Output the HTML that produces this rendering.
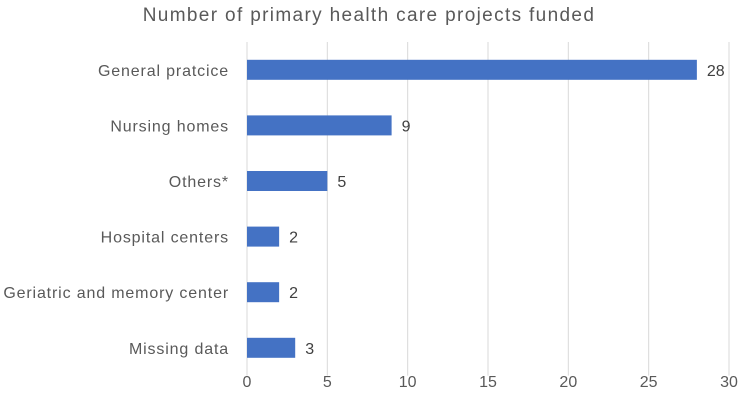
<!DOCTYPE html>
<html><head><meta charset="utf-8"><style>
html,body{margin:0;padding:0;background:#fff;}
svg{display:block;font-family:"Liberation Sans",sans-serif;}
</style></head><body>
<svg id="chart" width="738" height="409">
<text x="369" y="21" text-anchor="middle" font-size="19" letter-spacing="1.35" fill="#595959">Number of primary health care projects funded</text>
<g id="grid"></g><g id="bars"></g><g id="labels"></g>
</svg>
<script>
const categories = ["General pratcice","Nursing homes","Others*","Hospital centers","Geriatric and memory center","Missing data"];
const values = [28,9,5,2,2,3];
const ticks = [0,5,10,15,20,25,30];
const x0=247,x1=729,plotTop=42,step=55.6,barH=20,maxV=30;
const xs=v=>x0+(x1-x0)*v/maxV;
const yc=i=>plotTop+step*(i+0.5);
const ns="http://www.w3.org/2000/svg";
function mk(tag,attrs,parent,text){const e=document.createElementNS(ns,tag);for(const k in attrs)e.setAttribute(k,attrs[k]);if(text!==undefined)e.textContent=text;parent.appendChild(e);return e;}
const grid=document.getElementById('grid'),bars=document.getElementById('bars'),labels=document.getElementById('labels');
ticks.forEach(t=>{
  const l=mk('line',{x1:xs(t),x2:xs(t),y1:plotTop,y2:plotTop+step*categories.length,stroke:'#d9d9d9','stroke-width':1},grid);
  
  
  const tx=mk('text',{x:xs(t),y:387,'text-anchor':'middle','font-size':16,fill:'#595959'},labels,String(t));
  
  
});
categories.forEach((c,i)=>{
  const y=yc(i);
  const r=mk('rect',{x:x0,y:y-barH/2,width:xs(values[i])-x0,height:barH,fill:'#4472c4'},bars);
  
  
  const cl=mk('text',{x:229,y:y+6,'text-anchor':'end','font-size':16,'letter-spacing':0.85,fill:'#595959'},labels,c);
  
  
  const vl=mk('text',{x:xs(values[i])+10,y:y+6,'font-size':16,fill:'#404040'},labels,String(values[i]));
  
  
});
</script>
</body></html>
